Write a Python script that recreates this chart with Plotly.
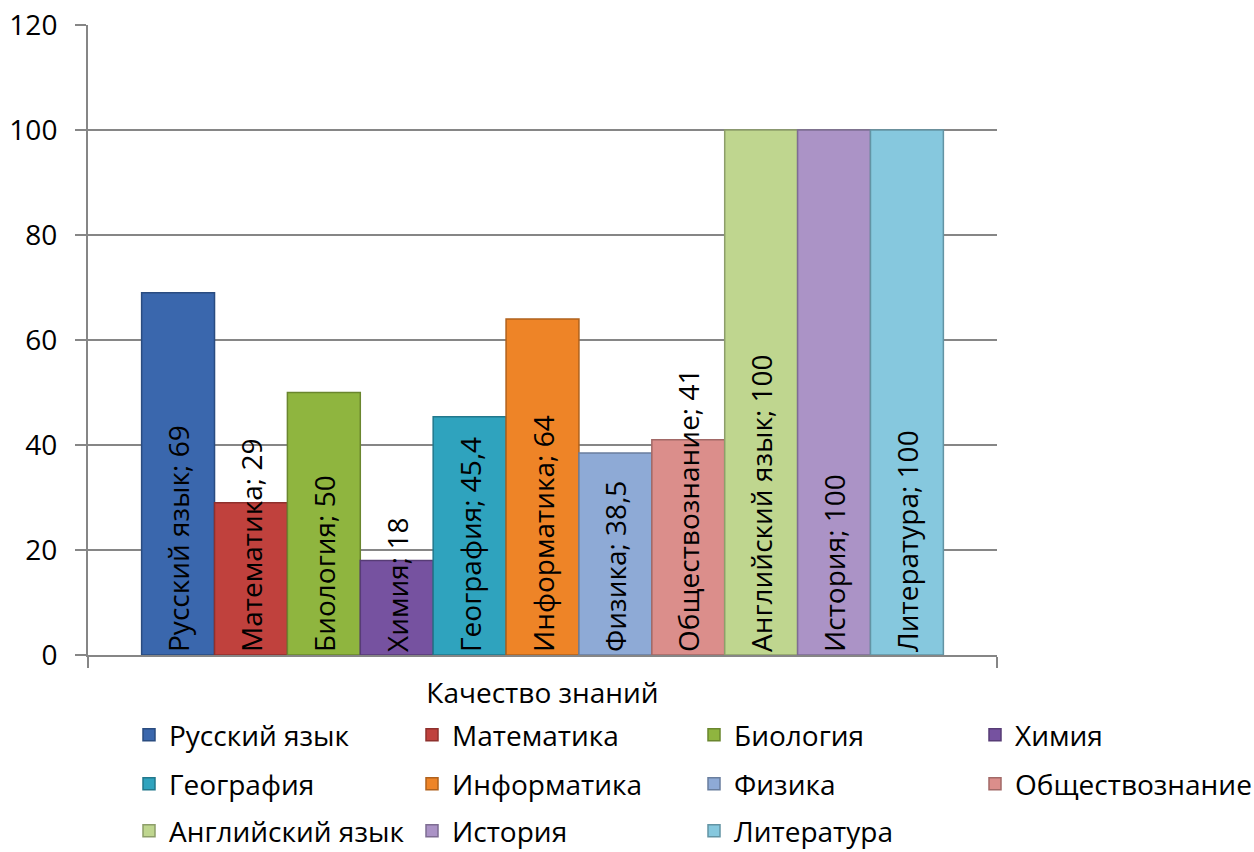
import plotly.graph_objects as go

category = ["Качество знаний"]
subjects = ["Русский язык", "Математика", "Биология", "Химия", "География",
            "Информатика", "Физика", "Обществознание", "Английский язык",
            "История", "Литература"]
values = [69, 29, 50, 18, 45.4, 64, 38.5, 41, 100, 100, 100]
colors = ["#3A67AD", "#C0413D", "#8FB53F", "#7652A0", "#2FA3BE", "#EE8427",
          "#8EAAD6", "#DB8E8B", "#BFD68F", "#AB93C6", "#86C8DE"]
lines = ["#2A4C80", "#8E302D", "#6A862E", "#573C76", "#22788C", "#B0611C",
         "#697E9E", "#A26967", "#8D9E6A", "#7E6D92", "#6394A4"]
y_ticks = [0, 20, 40, 60, 80, 100, 120]

FONT = "Open Sans"
FS = 28

# legend grid (4 columns x 3 rows), in pixels of the page
col_x = [129, 412, 694, 975]
row_y = [735, 784, 831]
W, H = 1254, 852

fig = go.Figure()
legends = {}
for i, (name, v, c, lc) in enumerate(zip(subjects, values, colors, lines)):
    label = f"{name}; {str(v).replace('.', ',')}"
    lid = "legend" if i == 0 else f"legend{i + 1}"
    fig.add_trace(go.Bar(
        name=name, x=category, y=[v],
        marker=dict(color=c, line=dict(color=lc, width=1.5)),
        text=[label], textposition="inside", insidetextanchor="start",
        textangle=-90, constraintext="none", cliponaxis=False,
        textfont=dict(family=FONT, size=FS, color="black"),
        legend=lid,
    ))
    legends[lid] = dict(
        orientation="h", xref="container", yref="container",
        x=col_x[i % 4] / W, y=1 - row_y[i // 4] / H,
        xanchor="left", yanchor="middle",
        font=dict(family=FONT, size=FS, color="black"),
        bgcolor="rgba(0,0,0,0)", borderwidth=0,
        itemclick=False, itemdoubleclick=False,
    )

fig.update_layout(
    width=W, height=H,
    margin=dict(l=88, r=257, t=25, b=197, autoexpand=False),
    paper_bgcolor="white", plot_bgcolor="white",
    barmode="group", bargap=0.118, bargroupgap=0,
    font=dict(family=FONT, size=FS, color="black"),
    showlegend=True,
    xaxis=dict(type="category", showline=True, linecolor="#868686", linewidth=2,
               ticks="outside", tickson="boundaries", ticklen=11,
               tickcolor="#868686", tickwidth=2, ticklabelstandoff=12,
               tickfont=dict(family=FONT, size=FS, color="black"),
               showgrid=False, fixedrange=True),
    yaxis=dict(range=[0, 120], tickvals=y_ticks, showline=True,
               linecolor="#868686", linewidth=2,
               ticks="outside", ticklen=11, tickcolor="#868686", tickwidth=2,
               ticklabelstandoff=12,
               showgrid=True, gridcolor="#868686", gridwidth=1.5,
               zeroline=False,
               tickfont=dict(family=FONT, size=FS, color="black"),
               fixedrange=True),
    **legends,
)

fig.write_html("out.html", config={"displayModeBar": False},
               post_script="document.body.style.margin='0';document.body.style.overflow='hidden';")
